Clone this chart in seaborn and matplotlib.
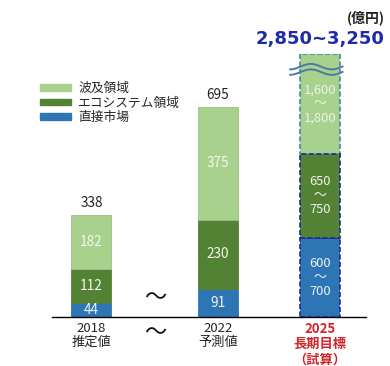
import numpy as np
import pandas as pd
import matplotlib.pyplot as plt
import seaborn as sns
from matplotlib.patches import Patch

# chart data (億円)
period_labels = ['2018\n推定値', '2022\n予測値', '2025\n長期目標\n（試算）']
segment_names = ['直接市場', 'エコシステム領域', '波及領域']

direct = [44, 91]
ecosystem = [112, 230]
ripple = [182, 375]
totals = [338, 695]

# 2025 long-term target ranges (low, high)
direct_2025 = [600, 700]
ecosystem_2025 = [650, 750]
ripple_2025 = [1600, 1800]
total_2025 = [2850, 3250]

unit_label = '(億円)'

# the 2025 bar is drawn compressed and broken (not to scale)
scale_2025 = 0.4
cap_2025 = 330

sns.set_theme(style='white')
plt.rcParams['font.family'] = ['Noto Sans CJK JP', 'DejaVu Sans']

colors = ['#2e75b6', '#548235', '#a9d18e']
navy = '#1f2a9e'
teal = '#3b8e9a'

xpos = [0, 1, 1.806]
h2025 = [np.mean(direct_2025) * scale_2025,
         np.mean(ecosystem_2025) * scale_2025,
         min(np.mean(ripple_2025) * scale_2025, cap_2025)]
seg_heights = [direct + [h2025[0]], ecosystem + [h2025[1]], ripple + [h2025[2]]]
seg_ranges = [direct_2025, ecosystem_2025, ripple_2025]

fig = plt.figure(figsize=(3.9, 3.66), dpi=100)
ax = fig.add_axes([52 / 390, 49.5 / 366, 314 / 390, 262.5 / 366])

bottoms = np.zeros(3)
for i, heights in enumerate(seg_heights):
    df = pd.DataFrame({'x': xpos, 'h': heights})
    sns.barplot(data=df, x='x', y='h', native_scale=True, orient='x', width=0.392,
                color=colors[i], saturation=1, errorbar=None, ax=ax,
                edgecolor='#9cc084' if i == 2 else colors[i], linewidth=0.6)
    bars = ax.containers[-1]
    for j, (patch, b) in enumerate(zip(bars, bottoms)):
        patch.set_y(b)
        cy = b + heights[j] / 2
        if j < 2:
            ax.text(xpos[j], cy, str(heights[j]), ha='center', va='center',
                    color='#f4f7f0', fontsize=9.8)
        else:
            lo, hi = seg_ranges[i]
            ax.text(xpos[j], cy, f'{lo:,}\n～\n{hi:,}', ha='center', va='center',
                    color='#eef3ea', fontsize=9.3, linespacing=1.1)
            patch.set_linestyle((0, (3, 1.5)))
            patch.set_linewidth(1.2)
            patch.set_edgecolor(teal if i == 2 else navy)
            patch.set_zorder(0.9 if i == 2 else 1.1)
    bottoms += np.array(heights)

# totals above the bars
for j in range(2):
    ax.annotate(str(totals[j]), (xpos[j], bottoms[j]), xytext=(0, 3),
                textcoords='offset points', ha='center', va='bottom',
                fontsize=9.8, color='#222222')
ax.annotate(f'{total_2025[0]:,}~{total_2025[1]:,}', (xpos[2], bottoms[2]),
            xytext=(0, 11), textcoords='offset points', ha='center', va='center',
            fontsize=13, fontweight='bold', color='#1f2aa6',
            family=['DejaVu Sans'], annotation_clip=False)

# break mark on the 2025 bar
wx = np.linspace(xpos[2] - 0.237, xpos[2] + 0.18, 60)
for off in [42, 60]:
    wy = bottoms[2] - off + 9 * np.sin((wx - wx[0]) / 0.33 * 2 * np.pi - np.pi / 2)
    ax.plot(wx, wy, color='#4a7aa6', lw=1.4, zorder=3, clip_on=False)

# "～" between 2018 and 2022
mid = (xpos[0] + xpos[1]) / 2
ax.text(mid, 62, '～', ha='center', va='center', fontsize=16, color='#111111')
ax.text(mid, -0.063, '～', ha='center', va='center', fontsize=16, color='#111111',
        transform=ax.get_xaxis_transform())

ax.set_xlim(-0.312, 2.17)
ax.set_ylim(0, bottoms[2])
ax.set_xticks(xpos)
ax.set_xticklabels(period_labels, fontsize=9.5, linespacing=1.1)
ax.tick_params(axis='x', length=0, pad=4)
tl = ax.get_xticklabels()
tl[2].set_color('#d0252a')
tl[2].set_fontweight('bold')
ax.set_yticks([])
ax.set_xlabel('')
ax.set_ylabel('')
for s in ['top', 'right', 'left']:
    ax.spines[s].set_visible(False)
ax.spines['bottom'].set_color('black')
ax.spines['bottom'].set_linewidth(1)

handles = [Patch(color=colors[k]) for k in [2, 1, 0]]
fig.legend(handles, [segment_names[k] for k in [2, 1, 0]],
           loc='upper left', bbox_to_anchor=(40 / 390, 1 - 82 / 366),
           frameon=False, fontsize=9.2, handlelength=2.4, handleheight=0.45,
           handletextpad=0.6, labelspacing=0.12, borderpad=0, borderaxespad=0)

fig.text(385 / 390, 1 - 18 / 366, unit_label, ha='right', va='center',
         fontsize=10, fontweight='bold', color='#222222')

fig.savefig('out.png', dpi=100)
